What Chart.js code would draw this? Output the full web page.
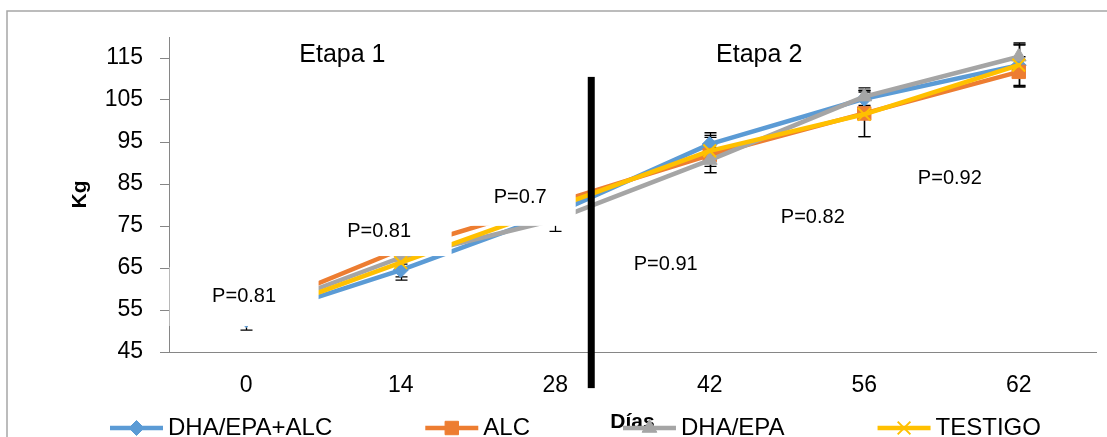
<!DOCTYPE html>
<html>
<head>
<meta charset="utf-8">
<title>Peso vivo por etapa</title>
<script src="https://cdn.jsdelivr.net/npm/chart.js@4.4.1/dist/chart.umd.min.js"></script>
<style>
  html, body { margin: 0; padding: 0; background: #fff; overflow: hidden; }
  canvas { display: block; }
</style>
</head>
<body>
<canvas id="chart" width="1107" height="437"></canvas>
<script>
// ---- data ----
const days = ['0', '14', '28', '42', '56', '62'];
const seriesNames = ['DHA/EPA+ALC', 'ALC', 'DHA/EPA', 'TESTIGO'];

const dhaEpaAlc = [52.6, 64.5, 78.0, 94.5, 105.3, 113.3];
const alc       = [54.3, 69.4, 80.5, 91.9, 101.8, 111.7];
const dhaEpa    = [53.7, 67.5, 76.5, 90.7, 105.8, 115.3];
const testigo   = [52.9, 66.3, 79.5, 92.9, 101.6, 113.3];

// standard deviations per sampling day
const dhaEpaAlcErr = [2.4, 2.4, 2.6, 2.7, 2.0, 4.8];
const alcErr       = [2.8, 3.5, 4.0, 4.2, 5.5, 3.6];
const dhaEpaErr    = [2.2, 3.0, 2.8, 3.0, 2.1, 3.3];
const testigoErr   = [1.4, 3.4, 3.5, 3.7, 5.3, 5.0];

const yTicks = [45, 55, 65, 75, 85, 95, 105, 115];

const pValues = ['P=0.81', 'P=0.81', 'P=0.7', 'P=0.91', 'P=0.82', 'P=0.92'];
const stageNames = ['Etapa 1', 'Etapa 2'];

// ---- layout of the text boxes (category index / kg), white box margins in px [l, t, r, b] ----
const pPlacement = [
  { x: -0.014, y: 58.1, box: [74.5, 30, 74.5, 29] },
  { x: 0.860,  y: 73.8, box: [72.5, 25, 72.5, 25] },
  { x: 1.773,  y: 81.7, box: [55.5, 28, 55.5, 28] },
  { x: 2.715,  y: 65.8, box: [50, 22, 50, 22] },
  { x: 3.667,  y: 77.0, box: [50, 22, 50, 22] },
  { x: 4.554,  y: 86.4, box: [50, 22, 50, 22] }
];
const stagePlacement = [{ x: 0.622, y: 115.8 }, { x: 3.320, y: 115.8 }];
const divider = { x: 2.233, top: 110.5, bottom: 36.4, width: 7 };

const FONT = '"Liberation Sans", Arial, sans-serif';
Chart.defaults.font.family = FONT;
Chart.defaults.color = '#000';

const looks = [
  { color: '#5B9BD5', pointStyle: 'rectRot',  radius: 7.5, bw: 1 },
  { color: '#ED7D31', pointStyle: 'rect',     radius: 9.5, bw: 1 },
  { color: '#A5A5A5', pointStyle: 'triangle', radius: 8.5, bw: 1 },
  { color: '#FFC000', pointStyle: 'crossRot', radius: 9,   bw: 2 }
];
const values = [dhaEpaAlc, alc, dhaEpa, testigo];
const errors = [dhaEpaAlcErr, alcErr, dhaEpaErr, testigoErr];

const datasets = seriesNames.map((name, i) => ({
  label: name,
  data: values[i],
  errorValues: errors[i],
  borderColor: looks[i].color,
  backgroundColor: looks[i].color,
  borderWidth: 4.5,
  borderJoinStyle: 'round',
  borderCapStyle: 'round',
  tension: 0,
  pointStyle: looks[i].pointStyle,
  pointRadius: looks[i].radius,
  pointBackgroundColor: looks[i].color,
  pointBorderColor: looks[i].color,
  pointBorderWidth: looks[i].bw,
  order: seriesNames.length - i
}));

// outer frame of the figure
const frame = {
  id: 'frame',
  beforeDraw(chart) {
    const ctx = chart.ctx;
    ctx.save();
    ctx.fillStyle = '#fff';
    ctx.fillRect(0, 0, chart.width, chart.height);
    ctx.strokeStyle = '#a6a6a6';
    ctx.lineWidth = 1.5;
    ctx.strokeRect(7, 11, chart.width + 50, chart.height + 50);
    ctx.restore();
  }
};

// vertical error bars with caps, drawn beneath the series markers
const errorBars = {
  id: 'errorBars',
  beforeDatasetsDraw(chart) {
    const { ctx, scales: { x, y } } = chart;
    ctx.save();
    ctx.strokeStyle = '#000';
    ctx.lineWidth = 1.3;
    chart.data.datasets.forEach(ds => {
      ds.data.forEach((v, j) => {
        const e = ds.errorValues[j];
        const px = Math.round(x.getPixelForValue(j)) + 0.5;
        const top = y.getPixelForValue(v + e);
        const bot = y.getPixelForValue(v - e);
        ctx.beginPath();
        ctx.moveTo(px, top); ctx.lineTo(px, bot);
        ctx.moveTo(px - 6, top); ctx.lineTo(px + 6, top);
        ctx.moveTo(px - 6, bot); ctx.lineTo(px + 6, bot);
        ctx.stroke();
      });
    });
    ctx.restore();
  }
};

// P-value text boxes, stage titles and the stage divider
const notes = {
  id: 'notes',
  afterDatasetsDraw(chart) {
    const { ctx, scales: { x, y } } = chart;
    ctx.save();
    ctx.textAlign = 'center';
    ctx.textBaseline = 'middle';
    pValues.forEach((t, i) => {
      const p = pPlacement[i];
      const cx = x.getPixelForValue(p.x);
      const cy = y.getPixelForValue(p.y);
      const [l, tp, r, b] = p.box;
      ctx.fillStyle = '#fff';
      ctx.fillRect(cx - l, cy - tp, l + r, tp + b);
      ctx.fillStyle = '#000';
      ctx.font = '20px ' + FONT;
      ctx.fillText(t, cx, cy);
    });
    ctx.font = '25px ' + FONT;
    stageNames.forEach((t, i) => {
      const p = stagePlacement[i];
      ctx.fillText(t, x.getPixelForValue(p.x), y.getPixelForValue(p.y));
    });
    const dx = x.getPixelForValue(divider.x);
    const dt = y.getPixelForValue(divider.top);
    const db = y.getPixelForValue(divider.bottom);
    ctx.fillStyle = '#000';
    ctx.fillRect(dx - divider.width / 2, dt, divider.width, db - dt);
    ctx.restore();
  }
};

// legend row along the bottom edge
const legendRow = {
  id: 'legendRow',
  afterDraw(chart) {
    const ctx = chart.ctx;
    ctx.save();
    ctx.font = '24px ' + FONT;
    const dsets = chart.data.datasets;
    const lineLen = 53, textGap = 5, itemGap = 93;
    let cx = 110;
    const cy = 428;
    dsets.forEach(ds => {
      ctx.strokeStyle = ds.borderColor;
      ctx.lineWidth = 4.5;
      ctx.lineCap = 'butt';
      ctx.beginPath();
      ctx.moveTo(cx, cy);
      ctx.lineTo(cx + lineLen, cy);
      ctx.stroke();
      ctx.fillStyle = ds.pointBackgroundColor;
      ctx.strokeStyle = ds.pointBorderColor;
      ctx.lineWidth = ds.pointBorderWidth;
      Chart.helpers.drawPoint(ctx, {
        pointStyle: ds.pointStyle, radius: ds.pointRadius, rotation: 0, borderWidth: ds.pointBorderWidth
      }, cx + lineLen / 2, cy);
      ctx.fillStyle = '#000';
      ctx.textAlign = 'left';
      ctx.textBaseline = 'middle';
      ctx.fillText(ds.label, cx + lineLen + textGap, cy);
      cx += lineLen + textGap + ctx.measureText(ds.label).width + itemGap;
    });
    ctx.restore();
  }
};

new Chart(document.getElementById('chart'), {
  type: 'line',
  data: { labels: days, datasets },
  options: {
    responsive: false,
    animation: false,
    events: [],
    layout: { padding: { left: 8, right: 5, top: 37, bottom: 0 } },
    plugins: { legend: { display: false }, tooltip: { enabled: false } },
    scales: {
      x: {
        type: 'category',
        offset: true,
        grid: { display: false, drawTicks: false },
        border: { display: true, color: '#868686', width: 1 },
        ticks: { padding: 20, font: { size: 23 }, color: '#000', maxRotation: 0 },
        title: { display: true, text: 'Días', font: { size: 21, weight: 'bold' }, color: '#000', padding: { top: 0, bottom: 2 } },
        afterFit(scale) { scale.height = 85; }
      },
      y: {
        min: 45,
        max: 120,
        afterBuildTicks(scale) { scale.ticks = yTicks.map(v => ({ value: v })); },
        grid: { display: true, drawOnChartArea: false, drawTicks: true, tickLength: 9, color: '#868686' },
        border: { display: true, color: '#868686', width: 1 },
        ticks: { padding: 17, font: { size: 23 }, color: '#000' },
        title: { display: true, text: 'Kg', font: { size: 21, weight: 'bold' }, color: '#000', padding: { top: 59.5, bottom: 0 } },
        afterFit(scale) { scale.width = 161; }
      }
    }
  },
  plugins: [frame, errorBars, notes, legendRow]
});
</script>
</body>
</html>
